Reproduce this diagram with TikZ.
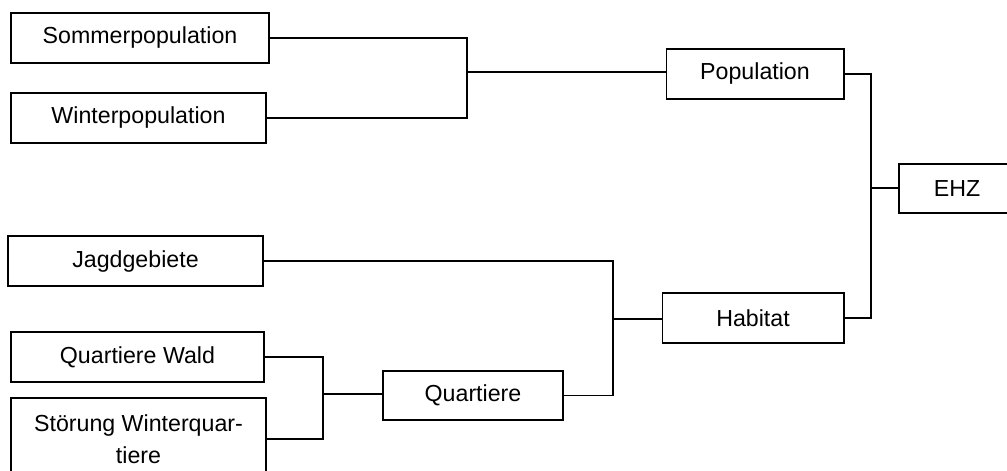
\documentclass[tikz,border=0pt]{standalone}
\usepackage{fontspec}
\setmainfont{Liberation Sans}
\begin{document}
\begin{tikzpicture}[x=0.02cm,y=-0.02cm,line width=0.6pt,
    box/.style={draw,rectangle,inner sep=0pt,minimum height=1cm,align=center,
      font=\fontsize{13.2pt}{18pt}\selectfont}]
      \clip (0,0) rectangle (1007,470);
      \draw
        (140,38) node[box,minimum width=5.16cm] (somm){Sommerpopulation}
        (138.5,118) node[box,minimum width=5.1cm] (wint){Winterpopulation}
        (755,74) node[box,minimum width=3.56cm] (pop){Population}
        (957,188.5) node[box,minimum width=2.32cm,minimum height=0.98cm] (ehz){EHZ}
        (135.5,261) node[box,minimum width=5.1cm] (jagd){Jagdgebiete}
        (137.5,357) node[box,minimum width=5.06cm] (qwald){Quartiere Wald}
        (138.5,439) node[box,minimum width=5.1cm,minimum height=1.64cm] (stoer){Störung Winterquar-\\tiere}
        (473,395.5) node[box,minimum width=3.6cm,minimum height=0.98cm] (quart){Quartiere}
        (753,318) node[box,minimum width=3.64cm] (hab){Habitat};
      \coordinate (jpop) at (467,72);
      \coordinate (jquart) at (323,394);
      \coordinate (jhab) at (613,319);
      \coordinate (jehz) at (871,188);
      \begin{scope}[-]
        \draw (somm.east) -| (jpop);
        \draw (wint.east) -| (jpop);
        \draw (jpop) to (jpop -| pop.west);
        \draw (qwald.east) -| (jquart);
        \draw (stoer.east) -| (jquart);
        \draw (jquart) to (jquart -| quart.west);
        \draw (jagd.east) -| (jhab);
        \draw (quart.east) -| (jhab);
        \draw (jhab) to (jhab -| hab.west);
        \draw (pop.east) -| (jehz);
        \draw (hab.east) -| (jehz);
        \draw (jehz) to (jehz -| ehz.west);
      \end{scope}
    \end{tikzpicture}
\end{document}
